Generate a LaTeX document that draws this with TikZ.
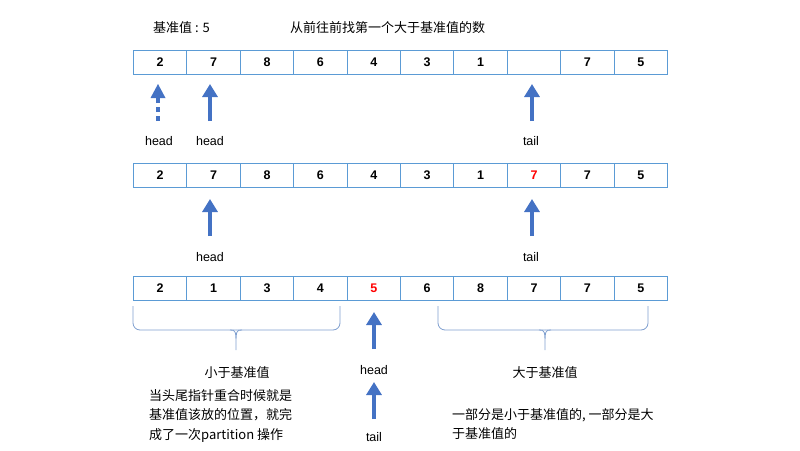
\documentclass[tikz,border=0pt]{standalone}
\usepackage{fontspec}
\setmainfont{Liberation Sans}
\newfontfamily\cjk{Noto Sans CJK SC}
\usetikzlibrary{arrows.meta}
\definecolor{cellc}{HTML}{5B9BD5}
\definecolor{arr}{HTML}{4472C4}
\definecolor{brc}{HTML}{7F9FCF}
\begin{document}
\begin{tikzpicture}[x=1pt,y=-1pt,
  cell/.style={draw=cellc,line width=1pt,minimum width=53.4pt,minimum height=24pt,inner sep=0,anchor=north west,font=\fontsize{12.5}{14}\selectfont\bfseries},
  up/.style={arr,line width=4.5pt,-{Triangle[width=15pt,length=13pt]}},
  lbl/.style={font=\fontsize{12.5}{14}\selectfont,inner sep=0},
  ctext/.style={font=\cjk\fontsize{13}{19.5}\selectfont,inner sep=0},
  bracec/.style={draw=brc,line width=0.8pt,rounded corners=7pt}]
\useasboundingbox (0,0) rectangle (800,450);
\def\row#1#2#3{\foreach \v [count=\i] in {#2}{\node[cell] (#1\i) at ({133+(\i-1)*53.4},#3) {\v};}}
\row{a}{2,7,8,6,4,3,1,{},7,5}{50}
\row{b}{2,7,8,6,4,3,1,\textcolor{red}{7},7,5}{163}
\row{c}{2,1,3,4,\textcolor{red}{5},6,8,7,7,5}{276}
\node[ctext,anchor=west] (t1) at (153,28) {基准值 : 5};
\node[ctext,anchor=west] (t2) at (290,28) {从前往前找第一个大于基准值的数};
% row 1 arrows
\draw[arr,line width=4.5pt,dash pattern=on 5pt off 4pt] (158,121) -- (158,97);
\fill[arr] (150.5,98) -- (158,84) -- (165.5,98) -- cycle;
\coordinate (h1s) at (210,121); \coordinate (h1e) at (210,84);
\draw[up] (h1s) -- (h1e);
\coordinate (t1s) at (532,121); \coordinate (t1e) at (532,84);
\draw[up] (t1s) -- (t1e);
\node[lbl] (lh0) at (159,141) {head};
\node[lbl] (lh1) at (210,141) {head};
\node[lbl] (lt1) at (531,141) {tail};
% row 2 arrows
\coordinate (h2s) at (210,236); \coordinate (h2e) at (210,199);
\draw[up] (h2s) -- (h2e);
\coordinate (t2s) at (532,236); \coordinate (t2e) at (532,199);
\draw[up] (t2s) -- (t2e);
\node[lbl] (lh2) at (210,257) {head};
\node[lbl] (lt2) at (531,257) {tail};
% row 3
\coordinate (h3s) at (374,349); \coordinate (h3e) at (374,312);
\draw[up] (h3s) -- (h3e);
\node[lbl] (lh3) at (374,370) {head};
\coordinate (t3s) at (374,419); \coordinate (t3e) at (374,382);
\draw[up] (t3s) -- (t3e);
\node[lbl] (lt3) at (374,437) {tail};
% braces
\draw[bracec] (133,306) -- (133,330) -- (236,330);
\draw[bracec] (340,306) -- (340,330) -- (236,330);
\draw[draw=brc,line width=0.8pt] (230,330) .. controls (236,330) .. (236,350) .. controls (236,330) .. (242,330);
\draw[bracec] (438,306) -- (438,330) -- (545,330);
\draw[bracec] (648,306) -- (648,330) -- (545,330);
\draw[draw=brc,line width=0.8pt] (539,330) .. controls (545,330) .. (545,350) .. controls (545,330) .. (551,330);
\node[ctext] (s1) at (237,373) {小于基准值};
\node[ctext] (s2) at (545,373) {大于基准值};
\node[ctext,anchor=north west,align=left] (n1) at (149,389) {当头尾指针重合时候就是\\基准值该放的位置，就完\\成了一次partition 操作};
\node[ctext,anchor=north west,align=left] (n2) at (452,408) {一部分是小于基准值的, 一部分是大\\于基准值的};
\end{tikzpicture}
\end{document}
